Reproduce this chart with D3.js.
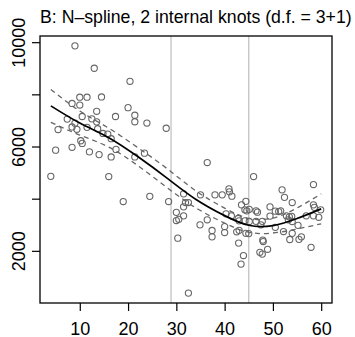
<!DOCTYPE html>
<html>
<head>
<meta charset="utf-8">
<script src="https://cdn.jsdelivr.net/npm/d3@7"></script>
<style>
  body { margin: 0; background: #fff; }
  text { font-family: "Liberation Sans", Arial, sans-serif; }
</style>
</head>
<body>
<div id="chart"></div>
<script>
// observed points
const xVals = [9.0, 13.0, 20.4, 10.0, 11.5, 14.5, 8.4, 10.0, 20.0, 13.5, 21.4, 10.5, 7.4, 12.5, 17.4, 21.4, 23.9, 9.0, 13.5, 27.9,
  5.5, 8.4, 9.4, 11.5, 13.7, 14.8, 15.8, 16.5, 10.2, 10.5, 8.4, 17.5, 5.0, 12.0, 14.0, 16.5, 21.4, 23.4, 4.0, 16.0,
  19.0, 24.5, 28.4, 30.0, 30.0, 30.5, 30.3, 31.5, 31.9, 32.5, 31.5, 31.5, 35.0, 38.0, 39.5, 36.4, 36.4, 34.9, 37.4, 37.4,
  40.0, 40.0, 32.5, 40.9, 41.0, 41.5, 40.3, 41.4, 42.8, 43.0, 42.5, 43.0, 42.9, 43.9, 43.4, 43.5, 44.4, 44.2, 44.6, 45.1,
  44.2, 45.1, 44.4, 45.0, 46.0, 46.5, 46.8, 46.5, 47.8, 47.5, 47.9, 48.0, 47.3, 47.8, 48.9, 49.4, 49.4, 50.5, 51.2, 51.6,
  50.5, 51.9, 52.4, 52.2, 52.8, 53.4, 53.2, 53.9, 54.0, 54.0, 54.0, 53.5, 55.4, 55.9, 55.2, 56.9, 58.4, 59.5, 58.4, 58.6,
  59.9, 58.4, 57.9];
const yVals = [9860, 9000, 8500, 7890, 7890, 7900, 7650, 7590, 7490, 7350, 7200, 7150, 7050, 7060, 7150, 6950, 6900, 6895, 6945, 6700,
  6650, 6750, 6660, 6735, 6680, 6500, 6475, 6300, 6220, 6120, 5970, 5890, 5860, 5795, 5690, 5600, 5600, 5745, 4856, 4848,
  3890, 4090, 3890, 3476, 3162, 3208, 2487, 4185, 3852, 3852, 3687, 3342, 4147, 4147, 4147, 5385, 3189, 2997, 2779, 2537,
  2932, 2702, 379, 4377, 4262, 4097, 3419, 3342, 3239, 3150, 2729, 2786, 2296, 1820, 1491, 3764, 3898, 3572, 3534, 3591,
  3150, 3124, 2671, 2660, 4848, 3534, 3484, 3131, 3131, 2997, 2411, 2357, 1943, 1874, 2058, 3687, 3331, 3522, 3507, 3534,
  2901, 4339, 4051, 2740, 3342, 3304, 3189, 3323, 3124, 3852, 2671, 2434, 2441, 2537, 2978, 3342, 3342, 3285, 3764, 3668,
  3572, 4542, 2135];

// fitted curve and band
const fitX = [4, 10, 16, 22, 28, 34, 40, 45, 50, 55, 60];
const fitY = [7558, 6900, 6340, 5615, 4800, 3980, 3350, 2980, 2970, 3240, 3610];
const lowerY = [6926, 6440, 5976, 5270, 4436, 3654, 3063, 2712, 2683, 2838, 3035];
const upperY = [8190, 7360, 6704, 5960, 5164, 4306, 3637, 3248, 3257, 3642, 4185];

const knots = [28.9, 45.0];
const xTicks = [10, 20, 30, 40, 50, 60];
const yTicks = [2000, 4000, 6000, 8000, 10000];
const yTickLabels = ["2000", "", "6000", "", "10000"];
const title = "B: N\u2013spline, 2 internal knots (d.f. = 3+1)";

const width = 355, height = 337;
const mLeft = 40, mRight = 332, mTop = 36, mBottom = 303;

const svg = d3.select('#chart').append('svg')
  .attr('width', width)
  .attr('height', height);

const x = d3.scaleLinear().domain([1.76, 62.24]).range([mLeft, mRight]);
const y = d3.scaleLinear().domain([0, 10237]).range([mBottom, mTop]);

// knot lines
svg.selectAll('line.knot')
  .data(knots)
  .enter().append('line')
  .attr('class', 'knot')
  .attr('x1', d => x(d)).attr('x2', d => x(d))
  .attr('y1', mTop).attr('y2', mBottom)
  .attr('stroke', '#bebebe')
  .attr('stroke-width', 1.2);

// points
svg.selectAll('circle')
  .data(xVals.map((d, i) => [d, yVals[i]]))
  .enter().append('circle')
  .attr('cx', d => x(d[0]))
  .attr('cy', d => y(d[1]))
  .attr('r', 3.1)
  .attr('fill', 'none')
  .attr('stroke', '#666')
  .attr('stroke-width', 1.1);

const line = vals => d3.line()
  .x((d, i) => x(fitX[i]))
  .y(d => y(d))
  .curve(d3.curveNatural)(vals);

// confidence band
[lowerY, upperY].forEach(vals => {
  svg.append('path')
    .attr('d', line(vals))
    .attr('fill', 'none')
    .attr('stroke', '#666')
    .attr('stroke-width', 1.3)
    .attr('stroke-dasharray', '5,4');
});

// fit
svg.append('path')
  .attr('d', line(fitY))
  .attr('fill', 'none')
  .attr('stroke', '#000')
  .attr('stroke-width', 1.7);

// axes
const xAxis = svg.append('g')
  .attr('transform', `translate(0,${mBottom})`)
  .call(d3.axisBottom(x).tickValues(xTicks).tickSize(8));
const yAxis = svg.append('g')
  .attr('transform', `translate(${mLeft},0)`)
  .call(d3.axisLeft(y).tickValues(yTicks).tickSize(8).tickFormat((d, i) => yTickLabels[i]));

[xAxis, yAxis].forEach(g => {
  g.select('.domain').remove();
  g.selectAll('line').attr('stroke', '#000').attr('stroke-width', 1.2);
  g.selectAll('text').attr('fill', '#000').style('font-size', '18px')
    .style('font-family', '"Liberation Sans", Arial, sans-serif');
});
xAxis.selectAll('text').attr('dy', null).attr('y', 31.5);
yAxis.selectAll('text')
  .attr('x', null).attr('dy', null).attr('y', 0)
  .attr('text-anchor', 'middle')
  .attr('transform', 'translate(-15,0) rotate(-90)');

// box
svg.append('rect')
  .attr('x', mLeft).attr('y', mTop)
  .attr('width', mRight - mLeft).attr('height', mBottom - mTop)
  .attr('fill', 'none')
  .attr('stroke', '#000')
  .attr('stroke-width', 1.3);

svg.append('text')
  .attr('x', mLeft)
  .attr('y', 22.5)
  .style('font-size', '17.7px')
  .text(title);
</script>
</body>
</html>
